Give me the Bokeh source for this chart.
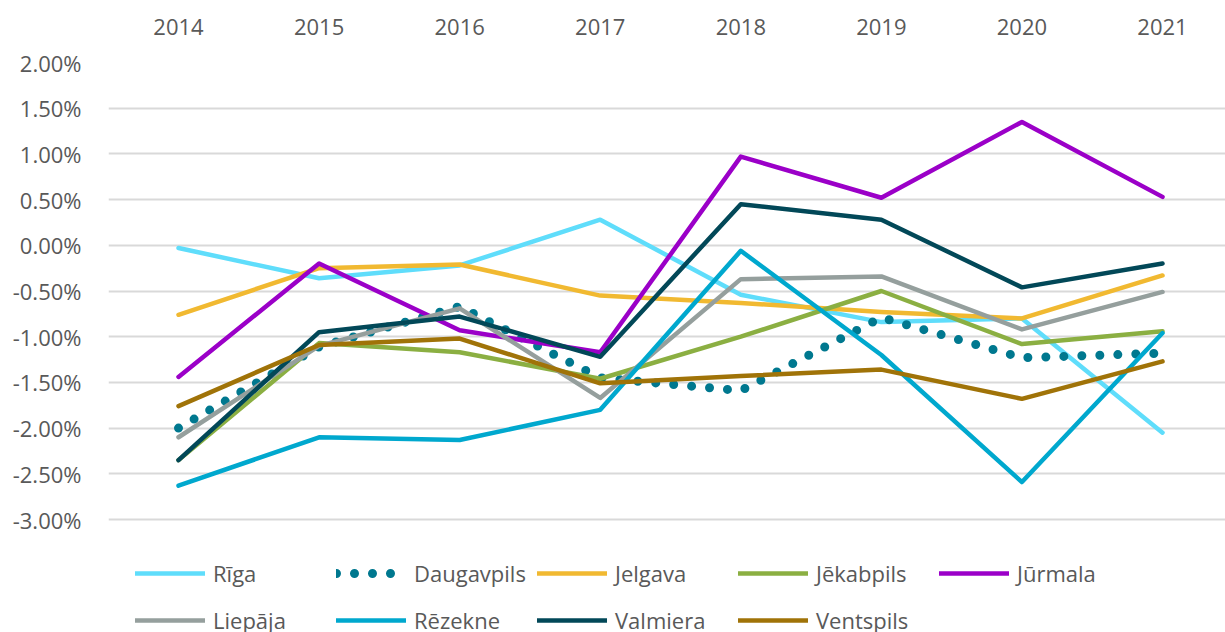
from bokeh.plotting import figure
from bokeh.models import FixedTicker, PrintfTickFormatter, Legend, LegendItem, Range1d, LinearAxis
from bokeh.embed import file_html
from bokeh.resources import INLINE

years = [2014, 2015, 2016, 2017, 2018, 2019, 2020, 2021]
riga = [-0.03, -0.36, -0.22, 0.28, -0.54, -0.84, -0.80, -2.05]
daugavpils = [-2.00, -1.11, -0.67, -1.45, -1.59, -0.79, -1.23, -1.18]
jelgava = [-0.76, -0.25, -0.21, -0.55, -0.63, -0.73, -0.80, -0.33]
jekabpils = [-2.35, -1.07, -1.17, -1.46, -1.00, -0.50, -1.08, -0.94]
jurmala = [-1.44, -0.20, -0.93, -1.17, 0.97, 0.52, 1.35, 0.53]
liepaja = [-2.10, -1.10, -0.69, -1.67, -0.37, -0.34, -0.92, -0.51]
rezekne = [-2.63, -2.10, -2.13, -1.80, -0.06, -1.20, -2.59, -0.96]
valmiera = [-2.35, -0.95, -0.78, -1.22, 0.45, 0.28, -0.46, -0.20]
ventspils = [-1.76, -1.09, -1.02, -1.51, -1.43, -1.36, -1.68, -1.27]

names = ["Rīga", "Daugavpils", "Jelgava", "Jēkabpils", "Jūrmala",
         "Liepāja", "Rēzekne", "Valmiera", "Ventspils"]
series = [riga, daugavpils, jelgava, jekabpils, jurmala, liepaja, rezekne, valmiera, ventspils]
colors = ["#5FDDFB", "#00788F", "#F1B931", "#8BAF42", "#9B00C8",
          "#959F9D", "#00A8CE", "#024858", "#A07308"]
y_ticks = [-3.0, -2.5, -2.0, -1.5, -1.0, -0.5, 0.0, 0.5, 1.0, 1.5, 2.0]

FONT = "Open Sans"
TXT = "#595959"

# frame extends to the bottom edge so the legend can sit inside it, below -3.00%
p = figure(width=1225, height=632, output_backend="svg", toolbar_location=None,
           x_range=Range1d(2013.502, 2021.448), y_range=Range1d(-4.236, 2.0),
           x_axis_location=None, min_border_left=108, min_border_top=62,
           min_border_right=0, min_border_bottom=0)
p.outline_line_color = None
p.background_fill_color = "white"
p.border_fill_color = "white"

xaxis = LinearAxis(ticker=FixedTicker(ticks=years))
xaxis.axis_line_color = None
xaxis.major_tick_line_color = None
xaxis.minor_tick_line_color = None
xaxis.major_label_text_font = FONT
xaxis.major_label_text_font_size = "22px"
xaxis.major_label_text_color = TXT
xaxis.major_label_standoff = 22
p.add_layout(xaxis, "above")

ya = p.yaxis[0]
ya.ticker = FixedTicker(ticks=y_ticks)
ya.formatter = PrintfTickFormatter(format="%.2f%%")
ya.axis_line_color = None
ya.major_tick_line_color = None
ya.minor_tick_line_color = None
ya.major_label_text_font = FONT
ya.major_label_text_font_size = "22px"
ya.major_label_text_color = TXT
ya.major_label_standoff = 21

p.xgrid.grid_line_color = None
p.ygrid.ticker = FixedTicker(ticks=y_ticks)
p.ygrid.grid_line_color = "#D9D9D9"
p.ygrid.grid_line_width = 2

items = []
for name, vals, col in zip(names, series, colors):
    if name == "Daugavpils":
        r = p.line(years, vals, line_color=col, line_width=9, line_dash="0 18",
                   line_cap="round", line_join="round")
    else:
        r = p.line(years, vals, line_color=col, line_width=4.5,
                   line_cap="round", line_join="round")
    items.append(LegendItem(label=name, renderers=[r]))

legend = Legend(items=items, orientation="horizontal", ncols=5,
                location=(27, -6), padding=0, margin=0, spacing=11,
                glyph_width=70, glyph_height=36, label_height=36,
                label_width=112, label_standoff=8,
                label_text_font=FONT, label_text_font_size="22px",
                label_text_color=TXT, border_line_color=None,
                background_fill_alpha=0)
p.add_layout(legend, "center")

open("out.html", "w").write(file_html(p, INLINE))
